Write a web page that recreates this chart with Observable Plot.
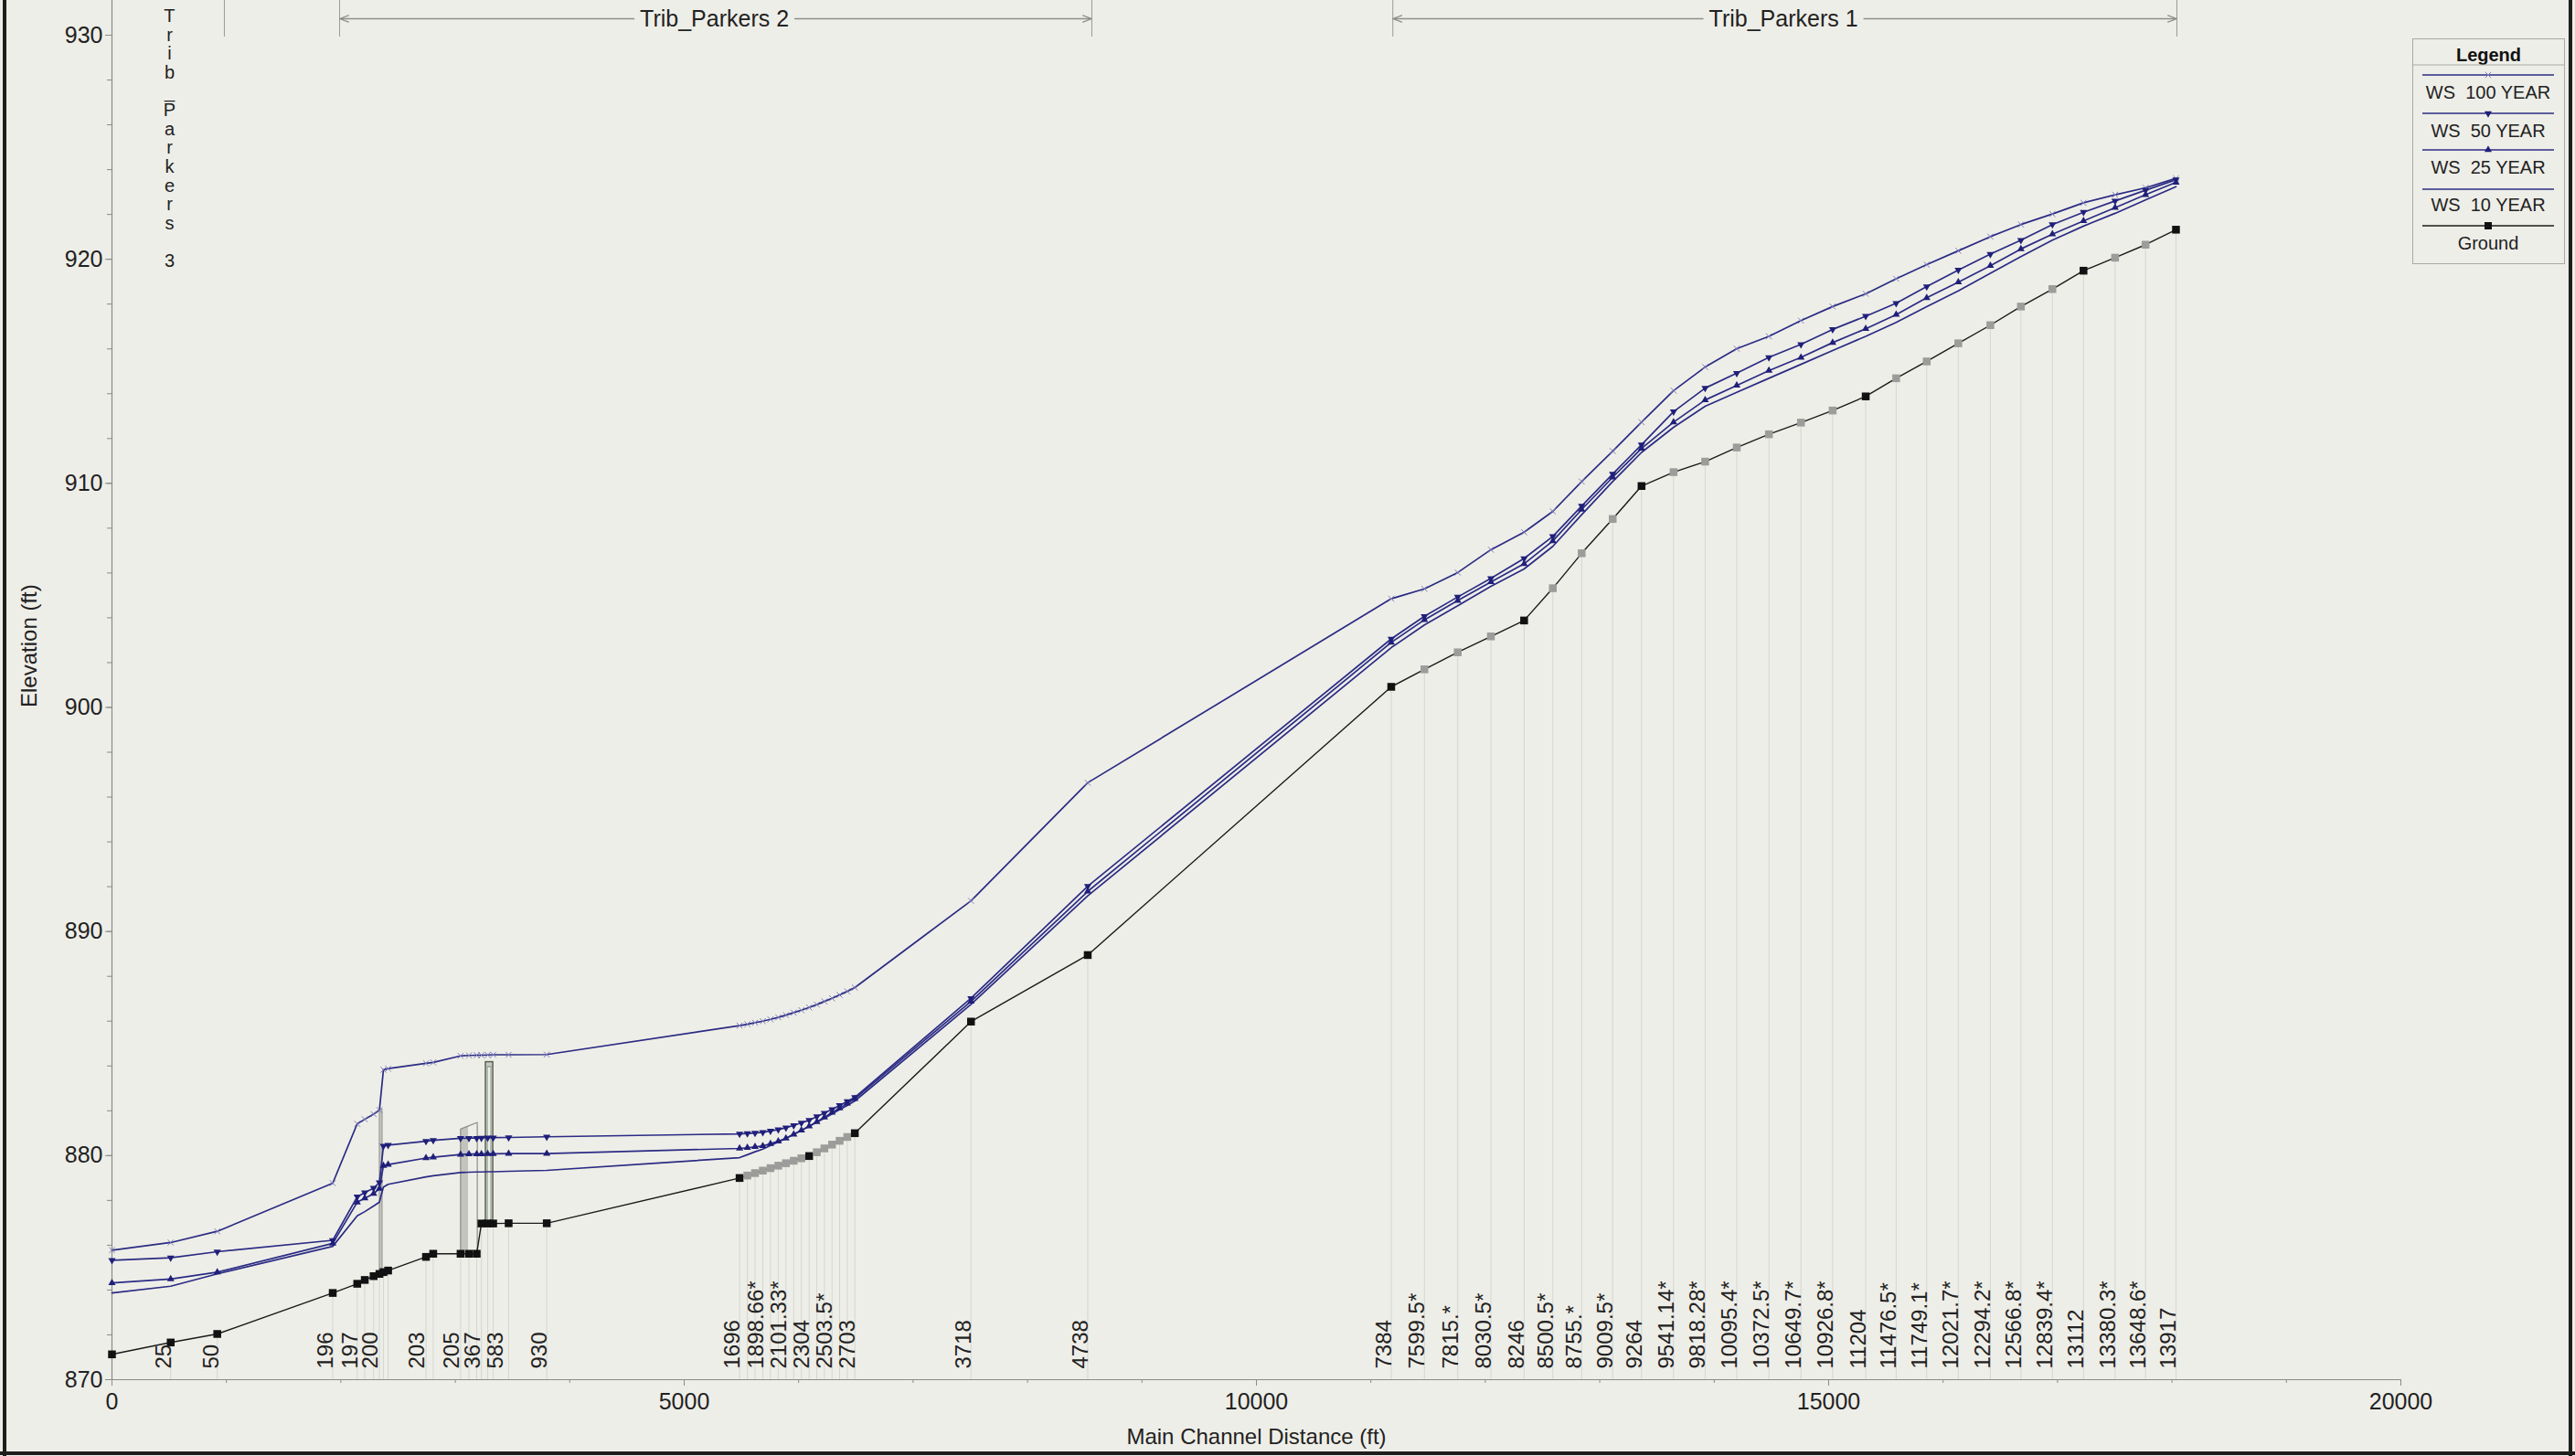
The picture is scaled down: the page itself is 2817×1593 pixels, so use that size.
<!DOCTYPE html>
<html>
<head>
<meta charset="utf-8">
<script src="https://cdn.jsdelivr.net/npm/d3@7"></script>
<script src="https://cdn.jsdelivr.net/npm/@observablehq/plot@0.6"></script>
<style>
html, body { margin: 0; padding: 0; background: #eeeee8; }
#wrap { position: relative; width: 2817px; height: 1593px; overflow: hidden; background: #eeeee8; }
#chart { position: absolute; left: 0; top: 0; }
.border { position: absolute; background: #1e1e1e; }
#legend { position: absolute; left: 2639px; top: 42px; }
</style>
</head>
<body>
<div id="wrap">
  <div id="chart"></div>
  <svg id="legend" width="168" height="248"></svg>
  <div class="border" style="left:3px;top:0;width:4px;height:1593px;"></div>
  <div class="border" style="left:2810px;top:0;width:4px;height:1593px;"></div>
  <div class="border" style="left:0;top:1588px;width:2817px;height:4px;"></div>
</div>
<script>
// ---------------- DATA ----------------
// main channel distance (ft) of every cross section
const dist = [
  0, 513, 920, 1929, 2143, 2209, 2286, 2337, 2372, 2413, 2744, 2807, 3046, 3119, 3187, 3228, 3283, 3331, 3466, 3799,
  5484, 5552, 5619, 5687, 5754, 5822, 5889, 5957, 6024, 6092, 6159, 6225, 6292, 6358, 6425, 6491, 7506, 8526,
  11178, 11468, 11759, 12049, 12339, 12590, 12842, 13113, 13365, 13645, 13921, 14197, 14478, 14758, 15035, 15324,
  15590, 15857, 16133, 16413, 16680, 16955, 17227, 17503, 17769, 18035
];
const ground = [
  871.13, 871.66, 872.04, 873.87, 874.28, 874.45, 874.62, 874.72, 874.80, 874.87, 875.48, 875.62, 875.62, 875.62, 875.62, 876.97, 876.97, 876.97, 876.98, 876.98,
  879.00, 879.11, 879.22, 879.33, 879.44, 879.55, 879.66, 879.77, 879.88, 879.98, 880.15, 880.32, 880.49, 880.66, 880.83, 881.00, 885.98, 888.95,
  900.92, 901.70, 902.46, 903.17, 903.88, 905.32, 906.88, 908.41, 909.88, 910.50, 910.97, 911.60, 912.19, 912.71, 913.25, 913.88,
  914.69, 915.44, 916.25, 917.06, 917.89, 918.67, 919.49, 920.07, 920.65, 921.32
];
const ws100 = [
  875.78, 876.12, 876.62, 878.77, 881.42, 881.62, 881.85, 882.03, 883.83, 883.88, 884.12, 884.16, 884.45, 884.47, 884.48, 884.48, 884.49, 884.50, 884.50, 884.51,
  885.80, 885.86, 885.93, 886.00, 886.08, 886.17, 886.27, 886.38, 886.49, 886.61, 886.74, 886.88, 887.02, 887.17, 887.33, 887.50, 891.37, 896.64,
  904.85, 905.29, 906.02, 907.04, 907.82, 908.75, 910.08, 911.44, 912.73, 914.14, 915.19, 916.01, 916.56, 917.26, 917.89, 918.46,
  919.13, 919.76, 920.38, 921.01, 921.55, 922.02, 922.52, 922.88, 923.19, 923.61
];
const ws50 = [
  875.33, 875.44, 875.71, 876.22, 878.16, 878.35, 878.55, 878.80, 880.43, 880.47, 880.64, 880.68, 880.77, 880.78, 880.78, 880.79, 880.80, 880.80, 880.81, 880.84,
  880.97, 880.99, 881.01, 881.04, 881.10, 881.16, 881.24, 881.35, 881.46, 881.58, 881.74, 881.90, 882.06, 882.24, 882.42, 882.60, 887.02, 892.02,
  903.06, 904.07, 904.93, 905.76, 906.65, 907.63, 908.99, 910.42, 911.72, 913.20, 914.25, 914.92, 915.62, 916.20, 916.87, 917.46,
  918.04, 918.78, 919.52, 920.23, 920.85, 921.55, 922.10, 922.60, 923.08, 923.55
];
const ws25 = [
  874.32, 874.49, 874.80, 876.08, 877.92, 878.10, 878.30, 878.53, 879.55, 879.60, 879.89, 879.93, 880.05, 880.07, 880.07, 880.07, 880.08, 880.08, 880.09, 880.09,
  880.32, 880.35, 880.39, 880.43, 880.53, 880.64, 880.77, 880.95, 881.13, 881.31, 881.51, 881.71, 881.92, 882.12, 882.33, 882.54, 886.88, 891.79,
  902.90, 903.91, 904.77, 905.60, 906.41, 907.43, 908.83, 910.27, 911.56, 912.73, 913.72, 914.37, 915.03, 915.62, 916.28, 916.90,
  917.53, 918.28, 918.98, 919.71, 920.46, 921.12, 921.71, 922.30, 922.88, 923.43
];
const ws10 = [
  873.87, 874.17, 874.72, 875.95, 877.31, 877.50, 877.75, 877.92, 878.60, 878.72, 879.05, 879.10, 879.24, 879.26, 879.27, 879.27, 879.28, 879.28, 879.30, 879.34,
  879.91, 880.04, 880.17, 880.29, 880.45, 880.61, 880.77, 880.95, 881.13, 881.31, 881.49, 881.67, 881.86, 882.05, 882.24, 882.44, 886.75, 891.59,
  902.67, 903.68, 904.54, 905.40, 906.18, 907.19, 908.60, 910.08, 911.38, 912.50, 913.44, 914.06, 914.69, 915.31, 915.93, 916.56,
  917.18, 917.89, 918.59, 919.37, 920.12, 920.85, 921.48, 922.05, 922.65, 923.24
];
// 1 = interpolated cross section (grey ground marker)
const interpolated = [
  0,0,0,0,0,0,0,0,0,0,0,0,0,0,0,0,0,0,0,0,
  0,1,1,1,1,1,1,1,1,0,1,1,1,1,1,0,0,0,
  0,1,1,1,0,1,1,1,0,1,1,1,1,1,1,0,
  1,1,1,1,1,1,0,1,1,0
];
// river station labels along the bottom
const stationLabels = [
  "25","50","196","197","200","203","205","367","583","930",
  "1696","1898.66*","2101.33*","2304","2503.5*","2703","3718","4738",
  "7384","7599.5*","7815.*","8030.5*","8246","8500.5*","8755.*","9009.5*","9264",
  "9541.14*","9818.28*","10095.4*","10372.5*","10649.7*","10926.8*","11204",
  "11476.5*","11749.1*","12021.7*","12294.2*","12566.8*","12839.4*","13112",
  "13380.3*","13648.6*","13917"
];
const stationLabelDist = [
  513, 931, 1929, 2143, 2320, 2729, 3035, 3213, 3417, 3799,
  5484, 5687, 5889, 6092, 6292, 6491, 7506, 8526,
  11178, 11468, 11759, 12049, 12339, 12590, 12842, 13113, 13365,
  13645, 13921, 14197, 14478, 14758, 15035, 15324,
  15590, 15857, 16133, 16413, 16680, 16955, 17227,
  17503, 17769, 18035
];
// reaches
const reachNames = ["Trib_Parkers 2", "Trib_Parkers 1"];
const reachStart = [1989, 11192];
const reachEnd = [8562, 18043];
const reachLabelAt = [5264, 14605];
const reach3Name = "Trib_Parkers 3";
const reach3End = 982;
const reach3LabelAt = 503;
// structures (distance ft, elevation ft)
const weirX = [2340, 2364];
const weirY = [874.72, 882.05];
const deckFillX = [3046, 3115];
const deckOutlineX = [3046, 3046, 3192, 3192];
const deckOutlineY = [875.62, 881.18, 881.48, 875.62];
const deckTopAtFill = [881.18, 881.32];
const culvertX = [3267, 3331];
const culvertInnerX = [3283, 3315];
const culvertY = [876.97, 884.17];
const culvertCapBottom = 883.95;
const xTicksMajor = [0, 5000, 10000, 15000, 20000];
const yTicksMajor = [870, 880, 890, 900, 910, 920, 930];
const legendItems = ["WS  100 YEAR", "WS  50 YEAR", "WS  25 YEAR", "WS  10 YEAR", "Ground"];

// ---------------- LAYOUT ----------------
const W = 2817, H = 1593;
const X0 = 122, X1 = 2626;           // pixels of 0 and 20000 ft
const yTop = 931.55, yBot = 870, plotH = 1509;
const pxY = px => yTop - px * (yTop - yBot) / plotH;
const ftPerPx = 20000 / (X1 - X0);
const NAVY = "#2b2b84";
const NARROW = '"Liberation Sans Narrow","Arial Narrow","Liberation Sans",Arial,sans-serif';

const rows = dist.map((d, i) => ({
  d, g: ground[i], w100: ws100[i], w50: ws50[i], w25: ws25[i], w10: ws10[i], interp: interpolated[i]
}));
const labels = stationLabels.map((t, i) => ({t, d: stationLabelDist[i]}));
const reaches = reachNames.map((n, i) => ({n, s: reachStart[i], e: reachEnd[i], c: reachLabelAt[i]}));
const gapFt = 88 * ftPerPx;
const arrows = reaches.flatMap(r => [
  {x1: r.c - gapFt, x2: r.s}, {x1: r.c + gapFt, x2: r.e}
]);
const reachEdges = [reach3End, ...reachStart, ...reachEnd];

const triDown = {
  draw(ctx, size) {
    const s3 = Math.sqrt(3);
    const y = -Math.sqrt(size / (s3 * 3));
    ctx.moveTo(0, -2 * y);
    ctx.lineTo(-s3 * y, y);
    ctx.lineTo(s3 * y, y);
    ctx.closePath();
  }
};

const chart = Plot.plot({
  width: W, height: H,
  marginLeft: X0, marginRight: W - X1, marginTop: 0, marginBottom: H - plotH,
  x: {domain: [0, 20000], label: null},
  y: {domain: [yBot, yTop], label: null},
  style: {background: "transparent", fontFamily: NARROW, color: "#222"},
  marks: [
    // section gridlines
    Plot.ruleX(rows, {x: "d", y1: yBot, y2: "g", stroke: "#d6d6d0", strokeWidth: 1}),
    // axes
    Plot.axisX({ticks: d3.range(0, 20001, 1000), tickSize: 4, tickFormat: () => "", stroke: "#8a8a8a"}),
    Plot.axisX({ticks: xTicksMajor, tickSize: 7, tickPadding: 8, stroke: "#8a8a8a", fill: "#222", fontSize: 25, tickFormat: d => String(d)}),
    Plot.axisY({ticks: d3.range(870, 931, 2), tickSize: 5, tickFormat: () => "", stroke: "#8a8a8a"}),
    Plot.axisY({ticks: yTicksMajor, tickSize: 7, tickPadding: 3, stroke: "#8a8a8a", fill: "#222", fontSize: 25, tickFormat: d => String(d)}),
    Plot.ruleX([0], {y1: yBot, y2: yTop, stroke: "#8a8a8a", strokeWidth: 1.2}),
    Plot.ruleY([yBot], {x1: 0, x2: 20000, stroke: "#8a8a8a", strokeWidth: 1.2}),
    Plot.text(["Main Channel Distance (ft)"], {x: 10000, frameAnchor: "bottom", dy: 70, fontSize: 24, fill: "#222"}),
    Plot.text(["Elevation (ft)"], {y: 900, frameAnchor: "left", dx: -90, rotate: -90, fontSize: 24, fill: "#222"}),
    // structures
    Plot.rect([0], {x1: weirX[0], x2: weirX[1], y1: weirY[0], y2: weirY[1], fill: "#c9c9c4", stroke: "#8e8e8a", strokeWidth: 1}),
    Plot.areaY(deckFillX.map((x, i) => ({x, y: deckTopAtFill[i]})), {x: "x", y1: deckOutlineY[0], y2: "y", fill: "#c4c4bf"}),
    Plot.line(deckOutlineX.map((x, i) => ({x, y: deckOutlineY[i]})), {x: "x", y: "y", stroke: "#8e8e8a", strokeWidth: 1.2}),
    Plot.rect([0], {x1: culvertX[0], x2: culvertX[1], y1: culvertCapBottom, y2: culvertY[1], fill: "#c9c9c4"}),
    Plot.rect([0], {x1: culvertX[0], x2: culvertX[1], y1: culvertY[0], y2: culvertY[1], fill: "none", stroke: "#55624f", strokeWidth: 1.5}),
    Plot.rect([0], {x1: culvertInnerX[0], x2: culvertInnerX[1], y1: culvertY[0], y2: culvertCapBottom, fill: "none", stroke: "#7c8878", strokeWidth: 1}),
    // profiles
    Plot.line(rows, {x: "d", y: "w100", stroke: NAVY, strokeWidth: 1.7}),
    Plot.line(rows, {x: "d", y: "w50", stroke: NAVY, strokeWidth: 1.7}),
    Plot.line(rows, {x: "d", y: "w25", stroke: NAVY, strokeWidth: 1.7}),
    Plot.line(rows, {x: "d", y: "w10", stroke: NAVY, strokeWidth: 1.7}),
    Plot.line(rows, {x: "d", y: "g", stroke: "#1a1a1a", strokeWidth: 1.4}),
    Plot.dot(rows, {x: "d", y: "w100", symbol: "times", r: 3, stroke: "#7d7dbb", strokeWidth: 1}),
    Plot.dot(rows, {x: "d", y: "w50", symbol: triDown, r: 3, fill: "#1f1f7a"}),
    Plot.dot(rows, {x: "d", y: "w25", symbol: "triangle", r: 3, fill: "#1f1f7a"}),
    Plot.dot(rows, {x: "d", y: "g", symbol: "square", r: 4.8, fill: d => d.interp ? "#9c9c9a" : "#111"}),
    // station labels
    Plot.text(labels, {x: "d", y: yBot, text: "t", rotate: -90, textAnchor: "start", lineAnchor: "bottom", dy: -12, fontSize: 24, fill: "#222"}),
    // reach annotations
    Plot.ruleX(reachEdges, {x: d => d, y1: pxY(0), y2: pxY(40), stroke: "#9a9a96", strokeWidth: 1}),
    Plot.arrow(arrows, {x1: "x1", x2: "x2", y1: pxY(20), y2: pxY(20), stroke: "#8e8e8a", strokeWidth: 1.3, headLength: 12, headAngle: 40}),
    Plot.text(reaches, {x: "c", y: pxY(20), text: "n", fontSize: 25, fill: "#222"}),
    Plot.text([reach3Name], {x: reach3LabelAt, y: pxY(9), text: d => d.split("").join("\n"), lineAnchor: "top", lineHeight: 1.03, fontSize: 20, fill: "#222"})
  ]
});
document.getElementById("chart").appendChild(chart);

// ---------------- LEGEND ----------------
const lg = d3.select("#legend");
const LW = 166, LH = 246;
lg.append("rect").attr("x", 0.5).attr("y", 0.5).attr("width", LW).attr("height", LH)
  .attr("fill", "none").attr("stroke", "#a9a9a5").attr("stroke-width", 1);
lg.append("text").attr("x", LW / 2 + 0.5).attr("y", 18).attr("text-anchor", "middle").attr("dominant-baseline", "central")
  .attr("font-family", '"Liberation Sans",Arial,sans-serif').attr("font-weight", "bold").attr("font-size", 20).attr("fill", "#111").text("Legend");
lg.append("line").attr("x1", 1).attr("x2", LW).attr("y1", 29).attr("y2", 29).attr("stroke", "#a9a9a5");
const lineYs = [40, 82, 122, 165, 205];
const textYs = [59, 101, 141, 182, 224];
const lx1 = 11, lx2 = 155, lcx = 83;
legendItems.forEach((t, i) => {
  lg.append("line").attr("x1", lx1).attr("x2", lx2).attr("y1", lineYs[i]).attr("y2", lineYs[i])
    .attr("stroke", i === 4 ? "#1a1a1a" : NAVY).attr("stroke-width", 1.6);
  lg.append("text").attr("x", lcx).attr("y", textYs[i]).attr("text-anchor", "middle").attr("dominant-baseline", "central")
    .attr("font-family", '"Liberation Sans",Arial,sans-serif').attr("font-size", 20).attr("fill", "#222")
    .style("white-space", "pre").attr("xml:space", "preserve").text(t);
});
const sym = (type, size) => d3.symbol(type, size)();
lg.append("path").attr("transform", `translate(${lcx},${lineYs[0]})`).attr("d", sym(d3.symbolTimes, 28)).attr("stroke", "#7d7dbb").attr("fill", "none");
lg.append("path").attr("transform", `translate(${lcx},${lineYs[1]})`).attr("d", sym(triDown, 28)).attr("fill", "#1f1f7a");
lg.append("path").attr("transform", `translate(${lcx},${lineYs[2]})`).attr("d", sym(d3.symbolTriangle, 28)).attr("fill", "#1f1f7a");
lg.append("path").attr("transform", `translate(${lcx},${lineYs[4]})`).attr("d", sym(d3.symbolSquare, 64)).attr("fill", "#111");
</script>
</body>
</html>
